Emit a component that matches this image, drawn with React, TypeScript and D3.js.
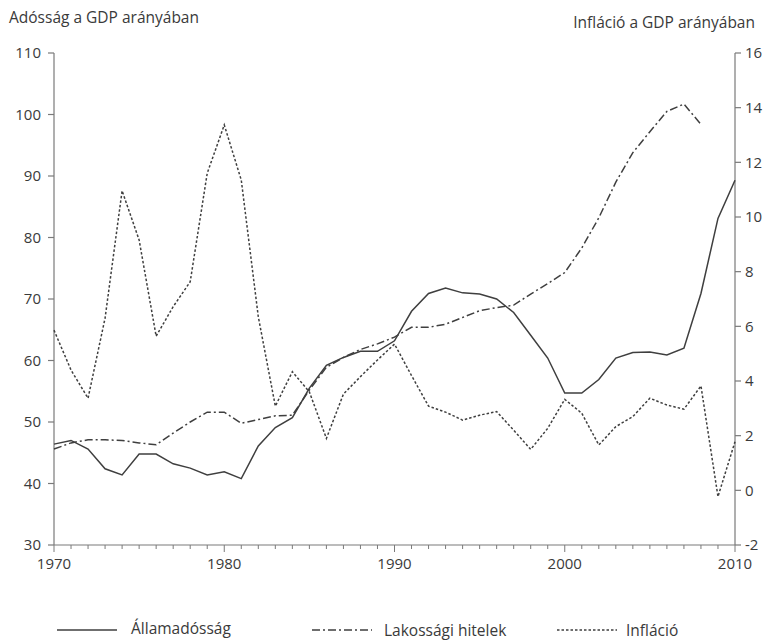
import * as d3 from "d3";

const years = d3.range(1970, 2011);

// Államadósság (% GDP), 1970–2010
const debt = [
  46.4, 47.0, 45.6, 42.4, 41.4, 44.8, 44.8, 43.2, 42.5, 41.4,
  41.9, 40.8, 46.1, 49.1, 50.7, 55.5, 59.2, 60.5, 61.5, 61.5,
  63.2, 68.0, 70.9, 71.8, 71.0, 70.8, 70.0, 67.8, 64.1, 60.4,
  54.7, 54.7, 56.9, 60.4, 61.3, 61.4, 60.9, 62.0, 70.9, 83.1,
  89.3,
];

// Lakossági hitelek (% GDP), 1970–2008
const household = [
  45.6, 46.6, 47.1, 47.1, 47.0, 46.6, 46.3, 48.2, 50.0, 51.6,
  51.6, 49.8, 50.4, 51.0, 51.1, 55.2, 58.9, 60.5, 61.8, 62.7,
  63.8, 65.4, 65.4, 65.9, 67.0, 68.1, 68.6, 69.0, 70.8, 72.5,
  74.3, 78.3, 83.2, 89.0, 93.8, 97.2, 100.5, 101.7, 98.4,
];

// Infláció (%), 1970–2010
const inflation = [
  5.86, 4.4, 3.37, 6.3, 10.96, 9.16, 5.64, 6.72, 7.63, 11.6,
  13.37, 11.35, 6.35, 3.08, 4.34, 3.6, 1.9, 3.52, 4.16, 4.77,
  5.35, 4.2, 3.08, 2.86, 2.57, 2.75, 2.88, 2.2, 1.5, 2.27,
  3.33, 2.82, 1.66, 2.33, 2.7, 3.37, 3.12, 2.97, 3.82, -0.23,
  1.78,
];

const leftTicks = [30, 40, 50, 60, 70, 80, 90, 100, 110];
const rightTicks = [-2, 0, 2, 4, 6, 8, 10, 12, 14, 16];
const yearLabels = [1970, 1980, 1990, 2000, 2010];

const leftTitle = "Adósság a GDP arányában";
const rightTitle = "Infláció a GDP arányában";

const W = 769;
const H = 641;
const font = "'Open Sans', 'Noto Sans', sans-serif";
const axisColor = "#7a7a7a";
const lineColor = "#3f3f3f";
const textColor = "#3a3a3a";

const x = d3.scaleLinear().domain([1970, 2010]).range([54, 735]);
const yL = d3.scaleLinear().domain([30, 110]).range([545, 53]);
const yR = d3.scaleLinear().domain([-2, 16]).range([545, 53]);

const lineL = d3.line<number>().x((_, i) => x(years[i])).y((d) => yL(d));
const lineR = d3.line<number>().x((_, i) => x(years[i])).y((d) => yR(d));

const series = [
  { name: "Államadósság", dash: "none", lx: 57, tx: 131, ty: 634 },
  { name: "Lakossági hitelek", dash: "8,3,2,3", lx: 312, tx: 384, ty: 636 },
  { name: "Infláció", dash: "2.5,2", lx: 557, tx: 626, ty: 636 },
];

export default function App() {
  const [x0, x1] = x.range();
  const [yb, yt] = yL.range();
  return (
    <svg
      width={W}
      height={H}
      viewBox={`0 0 ${W} ${H}`}
      style={{ position: "absolute", left: 0, top: 0, background: "#fff" }}
      fontFamily={font}
    >
      <text x={9} y={23} fontSize={15.5} fill={textColor}>{leftTitle}</text>
      <text x={755} y={28} fontSize={15.5} fill={textColor} textAnchor="end">{rightTitle}</text>

      {/* left axis */}
      <line x1={x0} x2={x0} y1={yt} y2={yb} stroke={axisColor} strokeWidth={1.2} />
      {leftTicks.map((t) => (
        <g key={"l" + t}>
          <line x1={x0 - 6} x2={x0} y1={yL(t)} y2={yL(t)} stroke={axisColor} strokeWidth={1.2} />
          <text x={x0 - 13} y={yL(t)} dy="0.35em" textAnchor="end" fontSize={15} fill={textColor}>{t}</text>
        </g>
      ))}

      {/* right axis */}
      <line x1={x1} x2={x1} y1={yt} y2={yb} stroke={axisColor} strokeWidth={1.2} />
      {rightTicks.map((t) => (
        <g key={"r" + t}>
          <line x1={x1} x2={x1 + 6} y1={yR(t)} y2={yR(t)} stroke={axisColor} strokeWidth={1.2} />
          <text x={x1 + 10} y={yR(t)} dy="0.35em" fontSize={15} fill={textColor}>{t}</text>
        </g>
      ))}

      {/* bottom axis */}
      <line x1={x0} x2={x1} y1={yb} y2={yb} stroke={axisColor} strokeWidth={1.2} />
      {years.map((yr) => (
        <line
          key={"x" + yr}
          x1={x(yr)}
          x2={x(yr)}
          y1={yb}
          y2={yb + (yr % 10 === 0 ? 7 : 4)}
          stroke={axisColor}
          strokeWidth={1}
        />
      ))}
      {yearLabels.map((yr) => (
        <text key={"xl" + yr} x={x(yr)} y={569} textAnchor="middle" fontSize={15} fill={textColor}>{yr}</text>
      ))}

      {/* series */}
      <path d={lineL(debt) ?? ""} fill="none" stroke={lineColor} strokeWidth={1.5} />
      <path d={lineL(household) ?? ""} fill="none" stroke={lineColor} strokeWidth={1.5} strokeDasharray="8,3,2,3" />
      <path d={lineR(inflation) ?? ""} fill="none" stroke={lineColor} strokeWidth={1.5} strokeDasharray="2.5,2" />

      {/* legend */}
      {series.map((s) => (
        <g key={s.name}>
          <line
            x1={s.lx}
            x2={s.lx + 60}
            y1={630}
            y2={630}
            stroke={lineColor}
            strokeWidth={1.5}
            strokeDasharray={s.dash}
          />
          <text x={s.tx} y={s.ty} fontSize={15.5} fill={textColor}>{s.name}</text>
        </g>
      ))}
    </svg>
  );
}
